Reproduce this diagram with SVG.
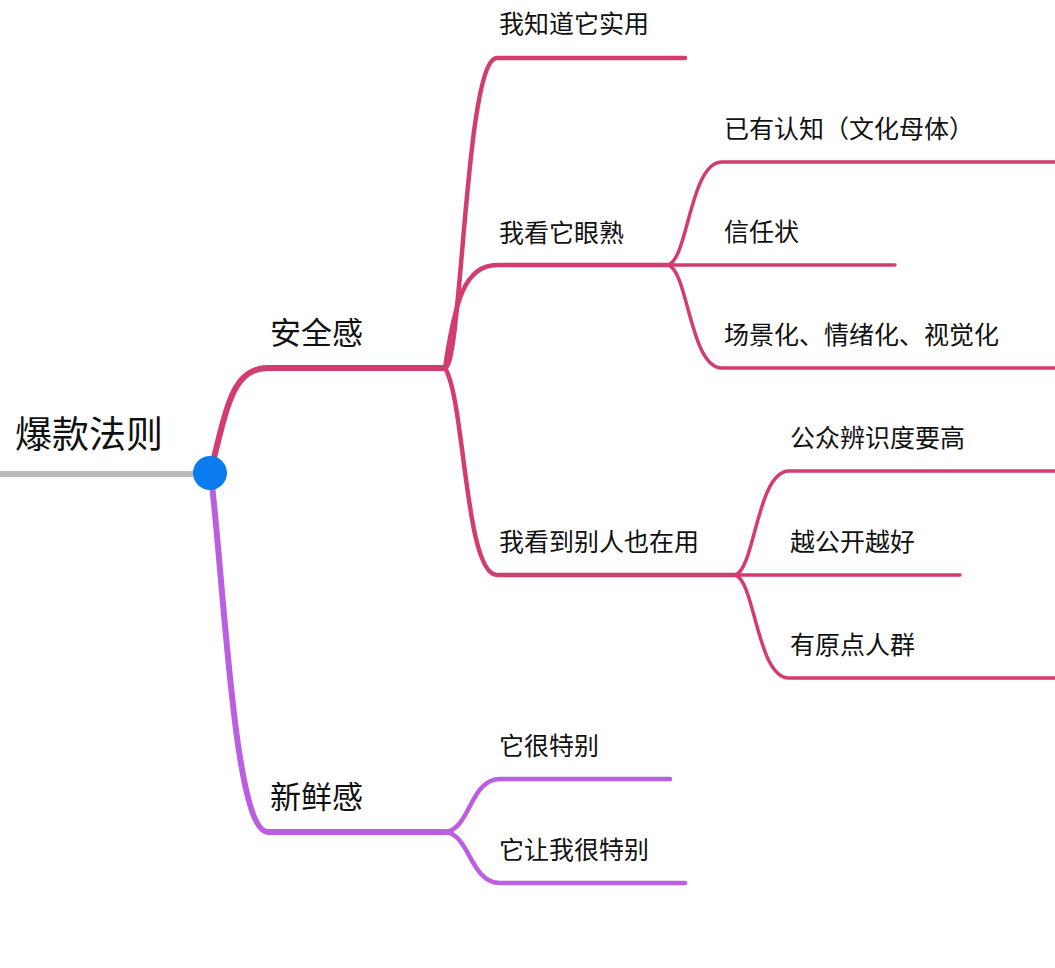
<svg xmlns="http://www.w3.org/2000/svg" width="1055" height="968" viewBox="0 0 1055 968">
<style>
text{font-family:"Noto Sans CJK SC","Liberation Sans",sans-serif;fill:#111}
.r{fill:none;stroke:#d23c6e;stroke-linecap:round}
.p{fill:none;stroke:#bb5ee0;stroke-linecap:round}
.t1{font-size:31px}.t2{font-size:25px}
</style>
<rect width="1055" height="968" fill="#fff"/>
<g id="connectors">
<path d="M0,474 L200,474" stroke="#bbb" stroke-width="6" fill="none"/>
<path class="r" stroke-width="6" d="M213,462 C228,400 235,368 268,368 L445,368"/>
<path class="p" stroke-width="6" d="M212,485 C225,600 235,832 268,832 L445,832"/>
<path class="r" stroke-width="4.5" d="M445,368 C462,368 465,58 497,58 L685,58"/>
<path class="r" stroke-width="4.5" d="M445,368 C455,300 465,265 497,265 L668,265"/>
<path class="r" stroke-width="4.5" d="M445,368 C465,400 465,575 497,575 L735,575"/>
<path class="r" stroke-width="3.5" d="M668,265 C688,260 690,162 722,162 L1055,162"/>
<path class="r" stroke-width="3.5" d="M668,265 L895,265"/>
<path class="r" stroke-width="3.5" d="M668,265 C688,270 690,368 722,368 L1055,368"/>
<path class="r" stroke-width="3.5" d="M735,575 C755,570 757,471 789,471 L1055,471"/>
<path class="r" stroke-width="3.5" d="M735,575 L960,575"/>
<path class="r" stroke-width="3.5" d="M735,575 C755,580 757,678 789,678 L1055,678"/>
<path class="p" stroke-width="4.5" d="M445,832 C470,830 470,779 500,779 L670,779"/>
<path class="p" stroke-width="4.5" d="M445,832 C470,834 470,883 500,883 L685,883"/>
</g>
<g id="root"><text x="15" y="448" font-size="37">爆款法则</text><circle cx="210" cy="473" r="17" fill="#0a7cf0"/></g>
<g id="n1"><text class="t1" x="270" y="344">安全感</text></g>
<g id="n2"><text class="t1" x="270" y="808">新鲜感</text></g>
<g id="n11"><text class="t2" x="499" y="33">我知道它实用</text></g>
<g id="n12"><text class="t2" x="499" y="242">我看它眼熟</text></g>
<g id="n13"><text class="t2" x="499" y="551">我看到别人也在用</text></g>
<g id="n121"><text class="t2" x="724" y="138">已有认知（文化母体）</text></g>
<g id="n122"><text class="t2" x="724" y="241">信任状</text></g>
<g id="n123"><text class="t2" x="724" y="344">场景化、情绪化、视觉化</text></g>
<g id="n131"><text class="t2" x="790" y="447">公众辨识度要高</text></g>
<g id="n132"><text class="t2" x="790" y="551">越公开越好</text></g>
<g id="n133"><text class="t2" x="790" y="654">有原点人群</text></g>
<g id="n21"><text class="t2" x="499" y="755">它很特别</text></g>
<g id="n22"><text class="t2" x="499" y="859">它让我很特别</text></g>
</svg>
